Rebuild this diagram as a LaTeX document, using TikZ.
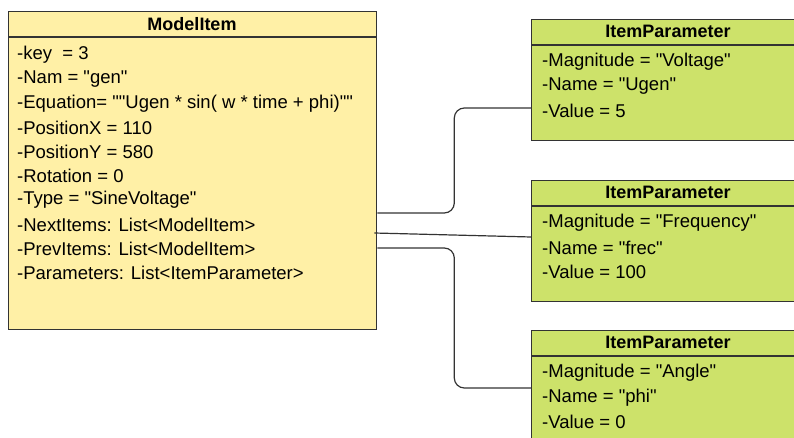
\documentclass[tikz,border=0pt]{standalone}
\usepackage{fontspec}
\setmainfont{Liberation Sans}[Ligatures=TeXOff]
\usetikzlibrary{calc}
\definecolor{itemyellow}{RGB}{255,240,166}
\definecolor{paramgreen}{RGB}{205,226,106}
\definecolor{edgegray}{RGB}{51,51,51}

\begin{document}
\begin{tikzpicture}[x=1pt, y=-1pt,
    box/.style={draw=edgegray, line width=1.3pt, rectangle, inner sep=0pt, anchor=north west},
    title/.style={font=\fontsize{18}{21}\selectfont\bfseries, inner sep=0pt},
    field/.style={font=\fontsize{18.5}{21}\selectfont, anchor=west, inner sep=0pt},
    divider/.style={draw=edgegray, line width=1.3pt},
    link/.style={draw=edgegray, line width=1.2pt, rounded corners=10pt}]
    \useasboundingbox (0,0) rectangle (794,438);
    \clip (0,0) rectangle (794,438);

    % model item class
    \node[box, fill=itemyellow, minimum width=368pt, minimum height=318pt] (model) at (8,11) {};
    \draw[divider] (8,37) -- (376,37);
    \node[title] (modeltitle) at (192,24) {ModelItem};
    \foreach \txt [count=\i from 0] in {%
        {-key\ \ = 3},
        {-Nam = "gen"},
        {-Equation= ""Ugen * sin( w * time + phi)""},
        {-PositionX = 110},
        {-PositionY = 580},
        {-Rotation = 0},
        {-Type = "SineVoltage"},
        {-NextItems: List<ModelItem>},
        {-PrevItems: List<ModelItem>},
        {-Parameters: List<ItemParameter>}}
        \node[field] (f\i) at (17,{55+24.2*\i}) {\txt};

    % parameter classes
    \foreach \ytop/\mag/\nam/\val [count=\k] in {19/Voltage/Ugen/5, 180/Frequency/frec/100, 330/Angle/phi/0} {
        \node[box, fill=paramgreen, minimum width=275pt, minimum height=121pt] (param\k) at (531,\ytop) {};
        \draw[divider] (531,\ytop+26) -- (806,\ytop+26);
        \node[title] (ptitle\k) at (668,\ytop+12.5) {ItemParameter};
        \node[field] (mag\k) at (542,\ytop+42.5) {-Magnitude = "\mag"};
        \node[field] (nam\k) at (542,\ytop+67.5) {-Name = "\nam"};
        \node[field] (val\k) at (542,\ytop+91.5) {-Value = \val};
    }

    % links
    \coordinate (nextout) at ($(model.north east)+(0,202)$);
    \coordinate (midout) at ($(model.north east)+(-3,222)$);
    \coordinate (prevout) at ($(model.north east)+(0,237)$);
    \coordinate (in1) at ($(param1.north west)+(0,89)$);
    \coordinate (in2) at ($(param2.north west)+(0,57)$);
    \coordinate (in3) at ($(param3.north west)+(0,58)$);
    \draw[link] (nextout) -- ++(77,0) |- (in1);
    \draw[link] (midout) -- (in2);
    \draw[link] (prevout) -- ++(77,0) |- (in3);
\end{tikzpicture}
\end{document}
